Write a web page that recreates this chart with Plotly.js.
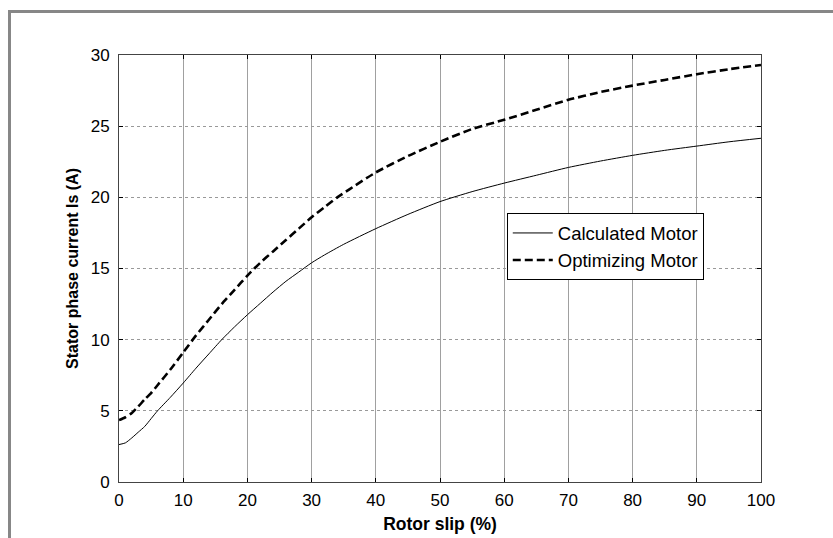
<!DOCTYPE html>
<html>
<head>
<meta charset="utf-8">
<script src="https://cdn.plot.ly/plotly-3.0.1.min.js"></script>
<style>
  html, body { margin: 0; padding: 0; background: #fff; }
  #chart { position: absolute; left: 0; top: 0; width: 833px; height: 538px; }
  #frame { position: absolute; left: 8px; top: 10px; width: 830px; height: 540px;
           border-top: 3px solid #878787; border-left: 3px solid #878787; pointer-events: none; }
</style>
</head>
<body>
<div id="chart"></div>
<div id="frame"></div>
<script>
// Rotor slip (%)
const slipCalc = [0, 1, 2, 3, 4, 5, 6, 8, 10, 12, 14, 16, 18, 20, 22, 24, 26, 28, 30, 32, 35, 40, 45, 50, 55, 60, 65, 70, 75, 80, 85, 90, 95, 100];
// Calculated Motor stator current (A)
const currentCalc = [2.63, 2.75, 3.1, 3.5, 3.9, 4.45, 5.0, 5.95, 6.95, 8.0, 9.0, 10.0, 10.9, 11.75, 12.55, 13.35, 14.1, 14.75, 15.4, 15.95, 16.7, 17.8, 18.8, 19.7, 20.4, 21.0, 21.55, 22.1, 22.55, 22.95, 23.3, 23.6, 23.9, 24.15];

const slipOpt = [0, 1, 2, 3, 4, 5, 6, 8, 10, 12, 14, 16, 18, 20, 22, 24, 26, 28, 30, 32, 34, 36, 40, 45, 50, 55, 60, 65, 70, 75, 80, 85, 90, 95, 100];
// Optimizing Motor stator current (A)
const currentOpt = [4.35, 4.55, 4.85, 5.3, 5.8, 6.25, 6.8, 7.9, 9.1, 10.3, 11.4, 12.5, 13.5, 14.5, 15.4, 16.2, 17.0, 17.8, 18.6, 19.3, 20.0, 20.6, 21.75, 22.9, 23.9, 24.8, 25.45, 26.15, 26.85, 27.4, 27.85, 28.25, 28.65, 29.0, 29.3];

const xTicks = [0, 10, 20, 30, 40, 50, 60, 70, 80, 90, 100];
const yTicks = [0, 5, 10, 15, 20, 25, 30];
const seriesNames = ["Calculated Motor", "Optimizing Motor"];

const traces = [
  { x: slipCalc, y: currentCalc, type: "scatter", mode: "lines", name: seriesNames[0],
    line: { color: "#000", width: 1, shape: "spline", smoothing: 0.6 } },
  { x: slipOpt, y: currentOpt, type: "scatter", mode: "lines", name: seriesNames[1],
    line: { color: "#000", width: 2.6, dash: "8px,4px", shape: "spline", smoothing: 0.6 } }
];

const layout = {
  width: 833, height: 538,
  margin: { l: 118.5, r: 71.5, t: 54.5, b: 56.3, pad: 0 },
  paper_bgcolor: "#fff", plot_bgcolor: "#fff",
  font: { family: "Arial, Liberation Sans, sans-serif", size: 17, color: "#000" },
  showlegend: true,
  legend: {
    x: 0.604, y: 0.629, xanchor: "left", yanchor: "top",
    bgcolor: "#fff", bordercolor: "#000", borderwidth: 1,
    font: { size: 18.5, color: "#000" }, tracegroupgap: 0, itemwidth: 40
  },
  xaxis: {
    range: [0, 100], tickvals: xTicks, ticktext: xTicks.map(String),
    ticks: "inside", ticklen: 4, tickcolor: "#000", mirror: "ticks",
    showline: true, linecolor: "#444", linewidth: 1,
    showgrid: true, gridcolor: "#a0a0a0", gridwidth: 1,
    zeroline: false, ticklabelstandoff: 3,
    title: { text: "<b>Rotor slip (%)</b>", font: { size: 17.5 }, standoff: 8 }
  },
  yaxis: {
    range: [0, 30], tickvals: yTicks, ticktext: yTicks.map(String),
    ticks: "inside", ticklen: 4, tickcolor: "#000", mirror: "ticks",
    showline: true, linecolor: "#444", linewidth: 1,
    showgrid: true, gridcolor: "#999", gridwidth: 1, griddash: "dot",
    zeroline: false, ticklabelstandoff: 5,
    title: { text: "<b>Stator phase current Is (A)</b>", font: { size: 16 }, standoff: 8 }
  }
};

Plotly.newPlot("chart", traces, layout, { staticPlot: true, displayModeBar: false });
</script>
</body>
</html>
